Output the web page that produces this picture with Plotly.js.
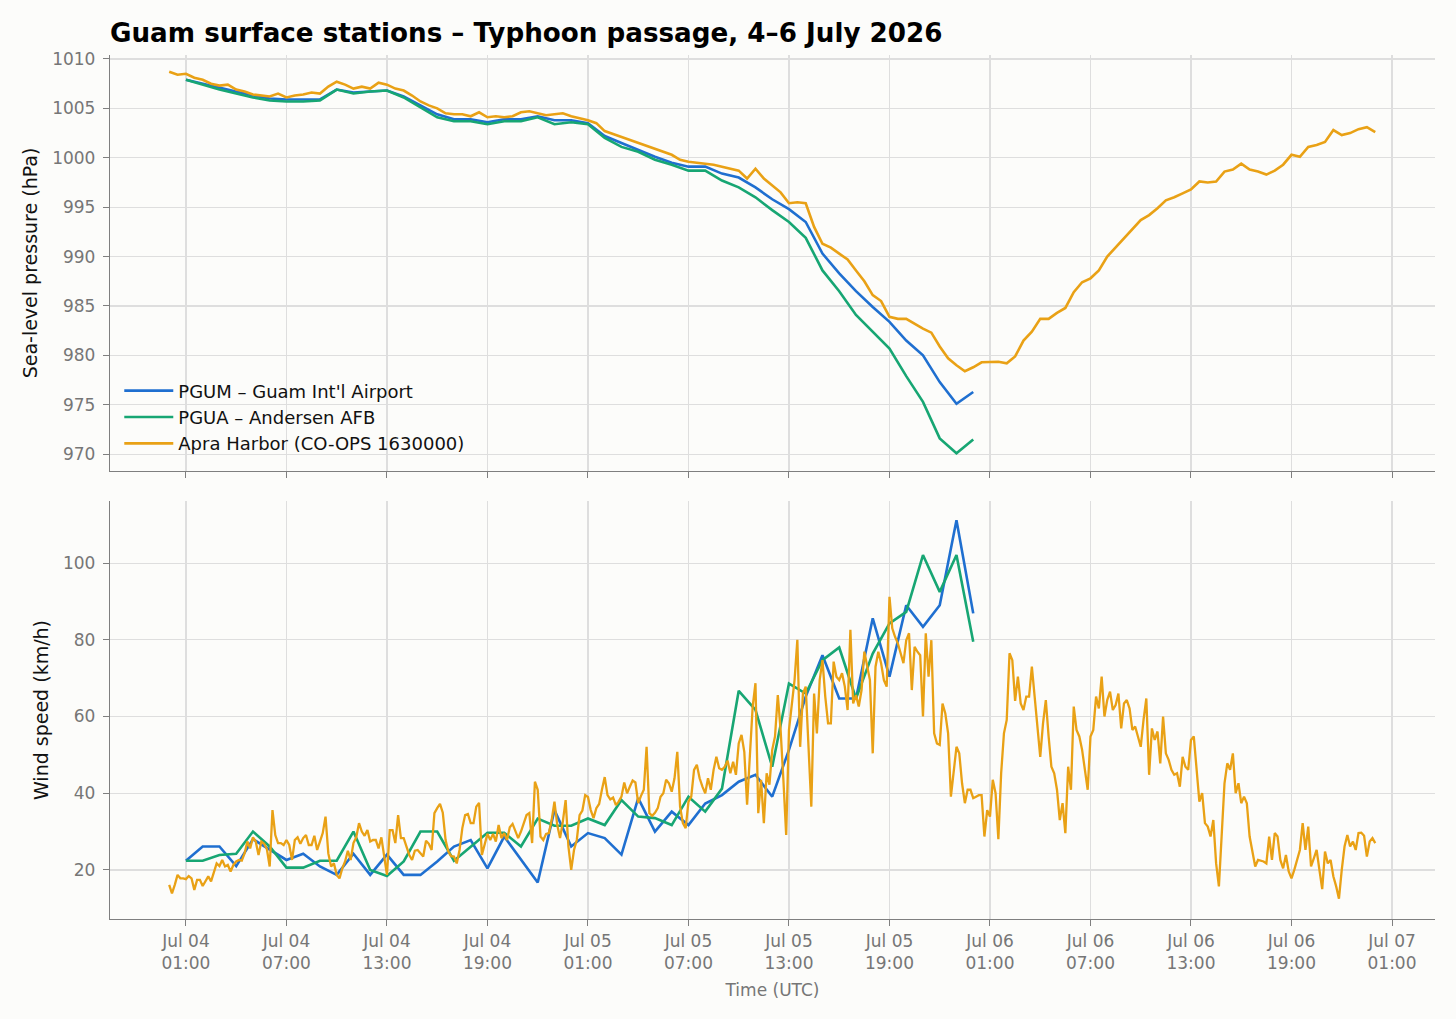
<!DOCTYPE html>
<html>
<head>
<meta charset="utf-8">
<script src="https://cdn.plot.ly/plotly-3.0.1.min.js"></script>
<style>html,body{margin:0;padding:0;background:#fcfcfa}</style>
</head>
<body>
<div id="chart" style="width:1456px;height:1019px"></div>
<script>
// hourly METAR stations, Jul 04 01:00 .. Jul 06 00:00 UTC
var pgumPressure = [1007.9, 1007.5, 1007.1, 1006.7, 1006.3, 1006.0, 1005.9, 1005.9, 1005.9, 1006.9,
    1006.6, 1006.7, 1006.8, 1006.2, 1005.3, 1004.4, 1003.9, 1003.9, 1003.6, 1003.9,
    1003.9, 1004.2, 1003.8, 1003.8, 1003.5, 1002.2, 1001.5, 1000.8, 1000.1, 999.5,
    999.1, 999.1, 998.4, 998.0, 997.0, 995.8, 994.8, 993.5, 990.3, 988.3,
    986.5, 984.9, 983.4, 981.5, 980.0, 977.3, 975.1, 976.3];
var pguaPressure = [1007.9, 1007.4, 1006.9, 1006.5, 1006.1, 1005.8, 1005.7, 1005.7, 1005.8, 1006.9,
    1006.5, 1006.7, 1006.8, 1006.1, 1005.1, 1004.1, 1003.7, 1003.7, 1003.4, 1003.7,
    1003.7, 1004.1, 1003.4, 1003.6, 1003.4, 1002.0, 1001.1, 1000.6, 999.8, 999.3,
    998.7, 998.7, 997.7, 997.0, 996.0, 994.7, 993.5, 991.9, 988.6, 986.5,
    984.1, 982.4, 980.7, 977.9, 975.3, 971.6, 970.1, 971.5];
var pgumWind = [22.4, 26.1, 26.1, 21.0, 28.0, 25.2, 22.6, 24.2, 20.9, 18.7,
    24.2, 18.7, 24.0, 18.7, 18.7, 22.2, 26.1, 27.8, 20.4, 28.7,
    22.6, 16.7, 35.6, 26.1, 29.6, 28.3, 24.0, 38.7, 30.0, 35.2,
    31.7, 37.3, 39.5, 43.0, 44.8, 39.1, 51.3, 65.2, 76.0, 64.7,
    64.7, 85.6, 70.4, 89.0, 83.4, 89.0, 111.2, 86.9];
var pguaWind = [22.4, 22.4, 23.9, 24.2, 30.0, 26.1, 20.6, 20.6, 22.4, 22.4,
    30.0, 20.0, 18.4, 22.2, 30.0, 30.0, 22.4, 26.1, 29.7, 29.7,
    26.1, 33.4, 31.5, 31.5, 33.4, 31.7, 38.2, 33.9, 33.5, 31.7,
    39.1, 35.2, 41.2, 66.7, 61.7, 46.9, 68.6, 66.0, 74.7, 78.0,
    64.7, 76.4, 84.3, 87.3, 102.1, 92.5, 102.1, 79.5];

// Apra Harbor tide gauge: pressure every 30 min, wind every 10 min, Jul 04 00:00 .. Jul 07 00:00
var apraPressure = [1008.7, 1008.4, 1008.5, 1008.1, 1007.9, 1007.5, 1007.3, 1007.4, 1006.9, 1006.7,
    1006.4, 1006.3, 1006.2, 1006.5, 1006.1, 1006.3, 1006.4, 1006.6, 1006.5, 1007.2,
    1007.7, 1007.4, 1007.0, 1007.2, 1007.0, 1007.6, 1007.4, 1007.0, 1006.8, 1006.3,
    1005.7, 1005.3, 1005.0, 1004.5, 1004.4, 1004.4, 1004.2, 1004.6, 1004.1, 1004.2,
    1004.1, 1004.2, 1004.6, 1004.7, 1004.5, 1004.3, 1004.4, 1004.5, 1004.2, 1004.0,
    1003.8, 1003.5, 1002.7, 1002.4, 1002.1, 1001.8, 1001.5, 1001.2, 1000.9, 1000.6,
    1000.3, 999.8, 999.6, 999.5, 999.4, 999.3, 999.1, 998.9, 998.7, 997.9,
    998.9, 997.9, 997.2, 996.5, 995.4, 995.5, 995.4, 993.0, 991.3, 990.9,
    990.3, 989.7, 988.6, 987.5, 986.1, 985.5, 983.9, 983.7, 983.7, 983.2,
    982.7, 982.3, 980.9, 979.7, 979.0, 978.4, 978.8, 979.3, 979.35, 979.35,
    979.2, 979.9, 981.5, 982.4, 983.7, 983.7, 984.3, 984.8, 986.4, 987.4,
    987.8, 988.6, 990.0, 990.9, 991.8, 992.8, 993.7, 994.2, 994.9, 995.7,
    996.0, 996.4, 996.8, 997.6, 997.5, 997.6, 998.6, 998.8, 999.4, 998.8,
    998.6, 998.3, 998.7, 999.3, 1000.3, 1000.1, 1001.1, 1001.3, 1001.6, 1002.8,
    1002.3, 1002.5, 1002.9, 1003.1, 1002.6];
// one row per hour
var apraWind = [
    16.1, 13.9, 16.1, 18.7, 17.8, 17.8,
    17.6, 18.4, 17.8, 14.8, 17.4, 17.4,
    15.8, 17.2, 18.3, 17.0, 19.6, 21.7,
    21.0, 22.6, 20.9, 21.3, 19.6, 21.3,
    22.2, 22.6, 22.4, 24.3, 27.4, 25.6,
    28.5, 27.4, 23.9, 27.4, 26.8, 25.4,
    20.9, 35.6, 29.1, 27.0, 27.0, 26.5,
    27.8, 26.5, 22.6, 27.8, 28.5, 26.8,
    28.3, 29.1, 26.5, 26.5, 28.9, 25.2,
    27.4, 29.6, 33.9, 24.3, 20.9, 21.7,
    18.7, 17.8, 20.4, 22.2, 25.0, 22.6,
    27.0, 28.5, 32.2, 30.0, 28.9, 30.4,
    27.4, 27.8, 27.8, 25.6, 28.5, 23.0,
    18.7, 30.4, 30.4, 27.0, 34.3, 28.3,
    28.3, 26.1, 23.9, 22.6, 25.0, 25.2,
    24.3, 23.5, 27.6, 26.8, 25.2, 34.8,
    36.1, 37.2, 34.9, 27.8, 24.8, 23.6,
    23.5, 21.7, 25.2, 30.9, 34.3, 34.6,
    32.2, 32.2, 36.5, 37.5, 23.9, 27.0,
    29.4, 27.8, 29.4, 27.4, 31.7, 28.3,
    29.6, 27.8, 31.1, 32.0, 30.3, 28.3,
    30.0, 32.2, 34.3, 34.8, 27.0, 43.0,
    40.9, 28.7, 27.8, 29.4, 29.6, 33.0,
    37.8, 31.7, 28.3, 32.6, 38.2, 26.1,
    20.0, 25.2, 27.8, 34.3, 35.5, 39.5,
    39.0, 35.6, 33.5, 36.1, 37.2, 40.9,
    44.2, 39.5, 38.4, 38.9, 36.9, 37.8,
    39.1, 42.8, 40.0, 41.7, 43.3, 42.8,
    37.4, 39.3, 40.9, 52.1, 34.8, 34.1,
    34.9, 36.1, 39.1, 40.0, 43.5, 42.6,
    40.4, 43.9, 50.8, 36.5, 32.2, 30.9,
    37.8, 39.1, 46.1, 47.4, 43.9, 41.7,
    40.0, 43.9, 40.9, 46.1, 49.5, 46.5,
    46.1, 46.9, 48.5, 45.2, 48.2, 44.8,
    53.0, 55.2, 50.8, 37.0, 50.4, 62.6,
    68.7, 34.8, 43.5, 32.2, 45.2, 42.2,
    51.3, 54.8, 65.6, 56.5, 43.5, 29.1,
    56.5, 62.6, 69.5, 80.0, 52.1, 66.0,
    67.8, 52.1, 36.5, 66.0, 55.6, 69.5,
    74.7, 65.2, 58.2, 58.2, 74.3, 70.4,
    69.5, 71.3, 67.8, 61.7, 82.6, 63.4,
    65.6, 62.6, 66.9, 76.9, 73.0, 69.5,
    50.4, 73.0, 76.9, 73.9, 69.5, 67.8,
    91.2, 83.0, 80.8, 79.1, 76.5, 73.9,
    79.9, 81.7, 66.9, 78.2, 76.9, 76.0,
    60.0, 81.7, 70.4, 79.9, 55.6, 53.0,
    52.6, 63.4, 60.8, 55.6, 39.1, 45.2,
    52.1, 50.4, 42.6, 37.4, 40.9, 40.9,
    38.7, 39.1, 39.5, 39.5, 28.7, 35.6,
    33.9, 43.5, 40.0, 28.0, 45.2, 55.6,
    59.1, 76.5, 74.7, 64.1, 70.4, 63.4,
    61.7, 65.2, 65.2, 73.0, 64.7, 56.5,
    49.5, 58.2, 64.3, 54.8, 46.9, 45.2,
    40.9, 33.0, 37.4, 29.6, 46.9, 40.9,
    62.6, 56.5, 54.8, 51.3, 46.1, 40.9,
    54.8, 56.5, 65.2, 62.1, 70.4, 60.0,
    64.3, 66.5, 61.7, 63.0, 66.0, 56.9,
    63.4, 64.3, 62.1, 56.5, 57.4, 54.8,
    52.1, 59.1, 64.7, 44.8, 56.9, 53.9,
    56.1, 47.8, 60.0, 50.4, 48.7, 46.1,
    44.8, 45.2, 41.7, 49.5, 46.9, 46.1,
    53.9, 54.8, 45.2, 37.8, 40.0, 32.2,
    31.3, 28.7, 33.0, 21.7, 15.7, 30.4,
    42.6, 47.8, 46.1, 50.4, 40.0, 42.6,
    37.4, 39.1, 37.4, 28.7, 25.2, 20.9,
    22.6, 22.4, 22.2, 21.7, 28.7, 22.6,
    29.6, 28.7, 22.6, 20.4, 23.9, 19.6,
    17.8, 20.0, 22.6, 25.2, 32.2, 25.2,
    31.3, 20.9, 23.0, 25.2, 20.0, 15.0,
    24.8, 21.7, 22.6, 18.3, 15.7, 12.5,
    20.0, 26.1, 29.1, 26.1, 27.4, 25.2,
    29.6, 29.7, 28.9, 23.5, 27.4, 28.3,
    27.0];

var names = ["PGUM \u2013 Guam Int'l Airport", "PGUA \u2013 Andersen AFB", "Apra Harbor (CO-OPS 1630000)"];
var colors = ["#1f6fd0", "#17a673", "#e9a115"];

function stamp(h) {
    return new Date(Date.UTC(2026, 6, 4) + h * 3600000).toISOString().slice(0, 19).replace('T', ' ');
}
function times(start, step, n) {
    var out = [];
    for (var i = 0; i < n; i++) out.push(stamp(start + i * step));
    return out;
}

var stationTimes = times(1, 1, pgumPressure.length);
var apraPTimes = times(0, 0.5, apraPressure.length);
var apraWTimes = times(0, 1 / 6, apraWind.length);

function line(x, y, i, ax, legend, w) {
    return {x: x, y: y, name: names[i], type: 'scatter', mode: 'lines',
        xaxis: ax[0], yaxis: ax[1], showlegend: legend,
        line: {color: colors[i], width: w || 2.6}};
}

var traces = [
    line(stationTimes, pgumPressure, 0, ['x', 'y'], true),
    line(stationTimes, pguaPressure, 1, ['x', 'y'], true),
    line(apraPTimes, apraPressure, 2, ['x', 'y'], true),
    line(stationTimes, pgumWind, 0, ['x2', 'y2'], false),
    line(stationTimes, pguaWind, 1, ['x2', 'y2'], false),
    line(apraWTimes, apraWind, 2, ['x2', 'y2'], false, 2.3)
];

var font = 'DejaVu Sans, sans-serif';
var xRange = ['2026-07-03 20:28', '2026-07-07 03:34'];
var xBase = {
    type: 'date', range: xRange, tick0: '2026-07-04 01:00', dtick: 6 * 3600000,
    tickformat: '%b %d<br>%H:%M', showgrid: true, gridcolor: '#dedede', gridwidth: 1.2,
    showline: true, linecolor: '#7f7f7f', linewidth: 1.2, ticks: 'outside', ticklen: 6,
    tickcolor: '#7f7f7f', tickfont: {family: font, size: 17, color: '#767676'}, zeroline: false
};
var yBase = {
    showgrid: true, gridcolor: '#dedede', gridwidth: 1.2, showline: true, linecolor: '#7f7f7f',
    linewidth: 1.2, ticks: 'outside', ticklen: 6, tickcolor: '#7f7f7f', zeroline: false,
    tickfont: {family: font, size: 17, color: '#767676'}, ticklabelstandoff: 4
};

var layout = {
    width: 1456, height: 1019,
    paper_bgcolor: '#fcfcfa', plot_bgcolor: '#fcfcfa',
    margin: {l: 110, r: 21, t: 55, b: 100},
    font: {family: font, color: '#111'},
    title: {text: '<b>Guam surface stations \u2013 Typhoon passage, 4\u20136 July 2026</b>',
        x: 0.0755, xanchor: 'left', xref: 'container', y: 0.968, yanchor: 'middle', yref: 'container',
        font: {family: font, size: 26.2, color: '#000'}},
    xaxis: Object.assign({}, xBase, {anchor: 'y', showticklabels: false, matches: 'x2'}),
    xaxis2: Object.assign({}, xBase, {anchor: 'y2',
        title: {text: 'Time (UTC)', font: {family: font, size: 17, color: '#767676'}, standoff: 12}}),
    yaxis: Object.assign({}, yBase, {domain: [0.5185, 1], range: [968.3, 1010.4], dtick: 5, tick0: 970,
        title: {text: 'Sea-level pressure (hPa)', font: {family: font, size: 19, color: '#111'}, standoff: 9}}),
    yaxis2: Object.assign({}, yBase, {domain: [0, 0.4838], range: [7.2, 116.2], dtick: 20, tick0: 0,
        title: {text: 'Wind speed (km/h)', font: {family: font, size: 19, color: '#111'}, standoff: 9}}),
    legend: {x: 0.007, xanchor: 'left', y: 0.5285, yanchor: 'bottom', bgcolor: 'rgba(0,0,0,0)',
        itemwidth: 49, font: {family: font, size: 18, color: '#111'}},
    showlegend: true
};

Plotly.newPlot('chart', traces, layout, {displayModeBar: false, staticPlot: true});
</script>
</body>
</html>
